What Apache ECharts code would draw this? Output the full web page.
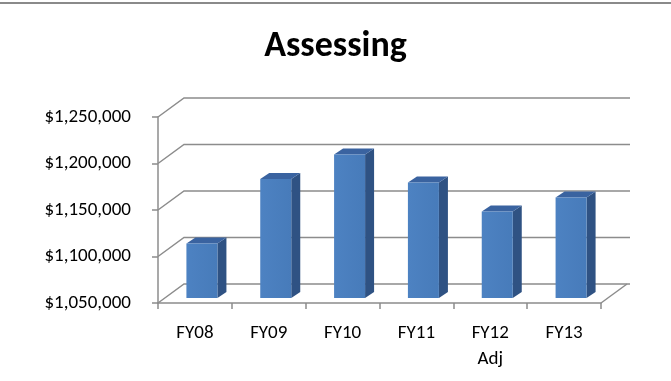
<!DOCTYPE html>
<html>
<head>
<meta charset="utf-8">
<script src="https://cdn.jsdelivr.net/npm/echarts@6/dist/echarts.min.js"></script>
<style>
  html, body { margin: 0; padding: 0; background: #fff; }
  #chart { width: 671px; height: 381px; }
</style>
</head>
<body>
<div id="chart"></div>
<script>
// data
const categories = ['FY08', 'FY09', 'FY10', 'FY11', 'FY12\nAdj', 'FY13'];
const assessing = [1108700, 1177900, 1204200, 1174300, 1143000, 1158100];
const yTicks = [1050000, 1100000, 1150000, 1200000, 1250000];

const yMin = 1050000, yMax = 1250000, yStep = 50000;

// fake 3d depth (pixels)
const WALL_DX = 26, WALL_DY = -19;   // back wall offset
const BAR_DX = 7, BAR_DY = -5;       // bar front face offset from front plane
const SIDE_DX = 9, SIDE_DY = -6;     // bar depth
const lineColor = '#8c8c8c';
const font = 'Carlito, Lato, "Open Sans", sans-serif';

let chart = echarts.init(document.getElementById('chart'));

let options = {
    animation: false,
    title: {
        text: 'Assessing',
        left: 'center',
        top: 24,
        textStyle: { fontFamily: font, fontWeight: 'bold', fontSize: 36, color: '#000' }
    },
    graphic: [{
        type: 'line',
        shape: { x1: 0, y1: 3, x2: 671, y2: 3 },
        style: { stroke: '#8a8a8a', lineWidth: 2 }
    }],
    grid: { left: 158, right: 70, top: 117, bottom: 78, containLabel: false },
    xAxis: {
        type: 'category',
        data: categories,
        boundaryGap: true,
        axisLine: { lineStyle: { color: lineColor, width: 1.5 } },
        axisTick: { show: true, length: 6, lineStyle: { color: lineColor, width: 1.5 } },
        axisLabel: { color: '#000', fontFamily: font, fontSize: 19, lineHeight: 26, margin: 17 }
    },
    yAxis: {
        type: 'value',
        min: yMin,
        max: yMax,
        interval: yStep,
        axisLine: { show: true, lineStyle: { color: lineColor, width: 1.5 } },
        axisTick: { show: true, length: 6, lineStyle: { color: lineColor, width: 1.5 } },
        splitLine: { show: false },
        axisLabel: {
            color: '#000', fontFamily: font, fontSize: 19, margin: 27,
            formatter: v => '$' + v.toLocaleString('en-US')
        }
    },
    series: [
        {
            // side wall + back wall gridlines, floor edge
            type: 'custom',
            z: 1,
            data: yTicks,
            renderItem: (params, api) => {
                let cs = params.coordSys;
                let y = api.coord([0, api.value(0)])[1];
                let left = cs.x, right = cs.x + cs.width;
                let children = [{
                    type: 'polyline',
                    shape: { points: [[left, y], [left + WALL_DX, y + WALL_DY], [right + WALL_DX + 3, y + WALL_DY]] },
                    style: { stroke: lineColor, lineWidth: 1.5, fill: null }
                }];
                if (api.value(0) === yMin) {
                    children.push({
                        type: 'line',
                        shape: { x1: right, y1: y, x2: right + WALL_DX, y2: y + WALL_DY },
                        style: { stroke: lineColor, lineWidth: 1.5 }
                    });
                }
                return { type: 'group', children: children };
            },
            encode: { y: 0 }
        },
        {
            type: 'custom',
            z: 2,
            data: assessing.map((v, i) => [i, v]),
            encode: { x: 0, y: 1 },
            renderItem: (params, api) => {
                let i = api.value(0);
                let base = api.coord([i, yMin]);
                let top = api.coord([i, api.value(1)]);
                let w = api.size([1, 0])[0] * 0.42;
                let x0 = base[0] - w / 2 + BAR_DX, x1 = x0 + w;
                let yb = base[1] + BAR_DY, yt = top[1] + BAR_DY;
                return {
                    type: 'group',
                    children: [
                        {
                            type: 'polygon',
                            shape: { points: [[x1, yb], [x1, yt], [x1 + SIDE_DX, yt + SIDE_DY], [x1 + SIDE_DX, yb + SIDE_DY]] },
                            style: { fill: '#2f5283' }
                        },
                        {
                            type: 'polygon',
                            shape: { points: [[x0, yt], [x1, yt], [x1 + SIDE_DX, yt + SIDE_DY], [x0 + SIDE_DX, yt + SIDE_DY]] },
                            style: { fill: '#3a63a0' }
                        },
                        {
                            type: 'rect',
                            shape: { x: x0, y: yt, width: w, height: yb - yt },
                            style: {
                                fill: new echarts.graphic.LinearGradient(0, 0, 1, 0, [
                                    { offset: 0, color: '#4d82c2' },
                                    { offset: 1, color: '#477bba' }
                                ])
                            }
                        }
                    ]
                };
            }
        }
    ]
};
chart.setOption(options);
</script>
</body>
</html>
